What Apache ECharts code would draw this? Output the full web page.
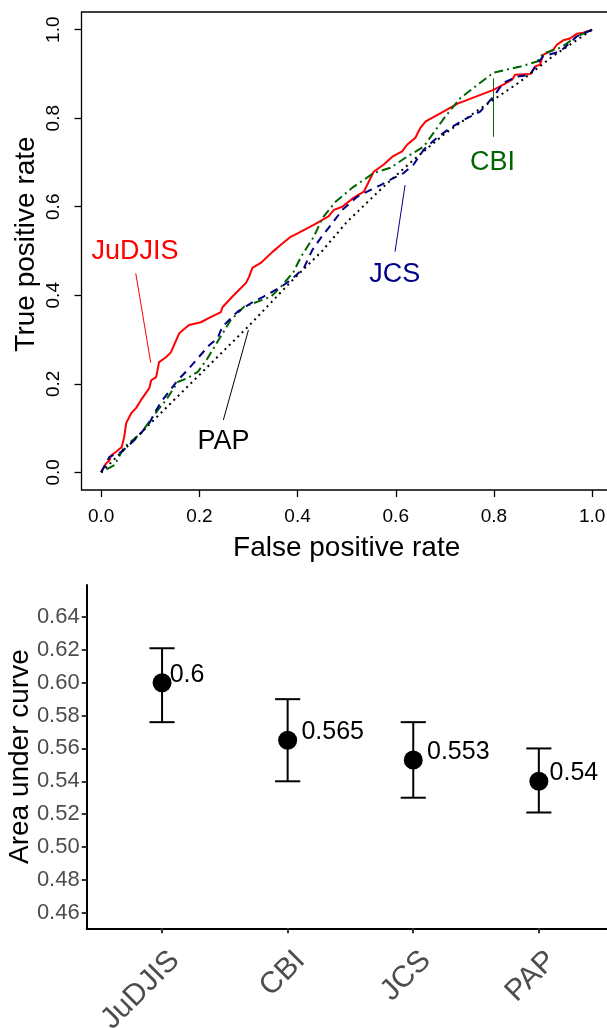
<!DOCTYPE html>
<html>
<head>
<meta charset="utf-8">
<script src="https://cdn.jsdelivr.net/npm/echarts@6/dist/echarts.min.js"></script>
<style>
html,body{margin:0;padding:0;background:#fff;}
#chart{width:607px;height:1028px;}
</style>
</head>
<body>
<div id="chart"></div>
<script>
// ---------- ROC curves (top panel) ----------
const judjisFpr = [0,0.010,0.017,0.020,0.030,0.042,0.047,0.051,0.061,0.071,0.081,0.091,0.098,0.102,0.112,0.118,0.132,0.142,0.159,0.179,0.203,0.224,0.244,0.247,0.270,0.295,0.301,0.308,0.325,0.349,0.366,0.386,0.402,0.433,0.463,0.474,0.491,0.514,0.535,0.555,0.575,0.593,0.613,0.623,0.640,0.650,0.661,0.697,0.728,0.738,0.799,0.819,0.837,0.843,0.874,0.884,0.894,0.900,0.921,0.928,0.941,0.955,0.969,0.982,1.0];
const judjisTpr = [0,0.020,0.027,0.038,0.046,0.057,0.080,0.111,0.133,0.145,0.163,0.179,0.190,0.208,0.215,0.249,0.260,0.271,0.314,0.333,0.339,0.351,0.362,0.373,0.400,0.428,0.441,0.462,0.473,0.498,0.514,0.532,0.541,0.559,0.578,0.593,0.600,0.620,0.634,0.679,0.695,0.713,0.725,0.740,0.756,0.778,0.793,0.815,0.834,0.838,0.864,0.876,0.887,0.898,0.900,0.917,0.921,0.943,0.955,0.966,0.976,0.980,0.991,0.993,1.0];

const cbiFpr = [0,0.027,0.047,0.081,0.105,0.115,0.132,0.156,0.176,0.197,0.217,0.237,0.264,0.291,0.346,0.366,0.392,0.407,0.433,0.451,0.478,0.514,0.555,0.589,0.623,0.657,0.701,0.732,0.772,0.799,0.854,0.888,0.900,0.935,0.969,1.0];
const cbiTpr = [0,0.016,0.057,0.088,0.125,0.140,0.163,0.204,0.213,0.227,0.258,0.295,0.344,0.374,0.397,0.419,0.453,0.487,0.532,0.575,0.612,0.645,0.676,0.688,0.713,0.736,0.804,0.846,0.880,0.903,0.917,0.928,0.946,0.959,0.985,1.0];

const jcsFpr = [0,0.017,0.041,0.075,0.098,0.112,0.122,0.136,0.156,0.176,0.197,0.220,0.237,0.247,0.278,0.305,0.331,0.366,0.386,0.413,0.430,0.447,0.471,0.491,0.522,0.549,0.569,0.596,0.616,0.636,0.657,0.684,0.711,0.738,0.772,0.799,0.819,0.847,0.874,0.884,0.900,0.935,0.969,1.0];
const jcsTpr = [0,0.035,0.046,0.080,0.111,0.140,0.159,0.179,0.208,0.231,0.258,0.287,0.303,0.329,0.363,0.382,0.397,0.419,0.434,0.462,0.502,0.529,0.563,0.593,0.623,0.638,0.649,0.665,0.676,0.695,0.729,0.756,0.778,0.796,0.815,0.849,0.880,0.894,0.898,0.917,0.940,0.951,0.985,1.0];

const papFpr = [0,0.05,0.10,0.15,0.20,0.25,0.30,0.386,0.45,0.50,0.57,0.63,0.70,0.77,0.85,0.92,1.0];
const papTpr = [0,0.055,0.11,0.165,0.22,0.275,0.33,0.43,0.50,0.565,0.64,0.70,0.765,0.82,0.88,0.94,1.0];

const rocTicks = [0,0.2,0.4,0.6,0.8,1.0];

// curve annotations (data coordinates): label text point, leader start, leader end
const annotNames = ['JuDJIS','CBI','JCS','PAP'];
const annotText = [[0.069,0.498],[0.797,0.700],[0.598,0.447],[0.249,0.069]];
const annotLeadA = [[0.0705,0.4496],[0.799,0.890],[0.619,0.649],[0.300,0.3215]];
const annotLeadB = [[0.101,0.2476],[0.799,0.758],[0.5985,0.4984],[0.2489,0.1182]];

// ---------- AUC (bottom panel) ----------
const methods = ['JuDJIS','CBI','JCS','PAP'];
const auc = [0.600, 0.565, 0.553, 0.540];
const aucLower = [0.576, 0.540, 0.530, 0.521];
const aucUpper = [0.621, 0.590, 0.576, 0.560];
const aucTicks = [0.46,0.48,0.50,0.52,0.54,0.56,0.58,0.60,0.62,0.64];

const FONT = 'Liberation Sans, Arial, Helvetica, sans-serif';
const colors = {JuDJIS:'#FF0000', CBI:'#006400', JCS:'#00008B', PAP:'#000000'};
const dashes = {JuDJIS:'solid', CBI:[2,4,9,4], JCS:[8,6], PAP:[2,4]};

const zip = (a,b) => a.map((v,i)=>[v,b[i]]);
const curves = [
  ['JuDJIS', judjisFpr, judjisTpr],
  ['CBI', cbiFpr, cbiTpr],
  ['JCS', jcsFpr, jcsTpr],
  ['PAP', papFpr, papTpr]
];

const series = [];
curves.forEach(([name, fx, fy]) => {
  series.push({
    type:'line', name, xAxisIndex:0, yAxisIndex:0,
    data: zip(fx, fy), showSymbol:false, symbol:'none', silent:true,
    lineStyle:{color:colors[name], width:2, type:dashes[name], opacity:1},
    z: 3
  });
});
annotNames.forEach((name,i) => {
  series.push({
    type:'line', xAxisIndex:0, yAxisIndex:0, data:[annotLeadA[i], annotLeadB[i]],
    showSymbol:false, symbol:'none', silent:true,
    lineStyle:{color:colors[name], width:1, opacity:1}, z:2
  });
});
series.push({
  type:'scatter', xAxisIndex:0, yAxisIndex:0, symbolSize:0, silent:true,
  itemStyle:{opacity:1},
  data: annotNames.map((n,i)=>({value:annotText[i], name:n,
     label:{color:colors[n]}})),
  label:{show:true, position:'inside', formatter:p=>p.name, fontSize:27, fontFamily:FONT},
  z:4
});

// bottom panel
const ctx = document.createElement('canvas').getContext('2d');
ctx.font = '25px ' + FONT;
series.push({
  type:'custom', xAxisIndex:1, yAxisIndex:1, silent:true,
  data: methods.map((m,i)=>[i+1, aucLower[i], aucUpper[i]]),
  renderItem:(params, api) => {
    const x = api.value(0), lo = api.value(1), hi = api.value(2);
    const t = api.coord([x,hi]), b = api.coord([x,lo]);
    const tl = api.coord([x-0.1,hi]), tr = api.coord([x+0.1,hi]);
    const bl = api.coord([x-0.1,lo]), br = api.coord([x+0.1,lo]);
    const st = {stroke:'#000', lineWidth:2};
    return {type:'group', children:[
      {type:'line', shape:{x1:t[0],y1:t[1],x2:b[0],y2:b[1]}, style:st},
      {type:'line', shape:{x1:tl[0],y1:tl[1],x2:tr[0],y2:tr[1]}, style:st},
      {type:'line', shape:{x1:bl[0],y1:bl[1],x2:br[0],y2:br[1]}, style:st}
    ]};
  },
  z:2
});
series.push({
  type:'scatter', xAxisIndex:1, yAxisIndex:1, symbol:'circle', symbolSize:19, silent:true,
  itemStyle:{color:'#000', opacity:1},
  data: methods.map((m,i)=>{
    const txt = String(auc[i]);
    const w = ctx.measureText(txt).width;
    return {value:[i+1, auc[i]], label:{distance: 0.22*w - 9.5}};
  }),
  label:{show:true, position:'right', formatter:p=>String(p.value[1]), fontSize:25,
         fontFamily:FONT, color:'#000', offset:[0,-7.7]},
  z:3
});

const option = {
  animation:false,
  backgroundColor:'#fff',
  textStyle:{fontFamily:FONT},
  grid:[
    {left:81.5, top:12, width:530.3, height:478, show:true, borderColor:'#000', borderWidth:1.3,
     backgroundColor:'transparent', outerBoundsMode:'none', containLabel:false},
    {left:86.7, top:585, width:527.5, height:343.3, outerBoundsMode:'none', containLabel:false}
  ],
  xAxis:[
    {type:'value', gridIndex:0, min:-0.04, max:1.04,
     axisLine:{show:false, onZero:false}, splitLine:{show:false},
     axisTick:{show:true, customValues:rocTicks, length:7, lineStyle:{color:'#000', width:1.3}},
     axisLabel:{customValues:rocTicks, formatter:v=>v.toFixed(1), fontSize:19, color:'#000', margin:17, fontFamily:FONT},
     name:'False positive rate', nameLocation:'middle', nameGap:44, nameMoveOverlap:false,
     nameTextStyle:{fontSize:28, color:'#000', fontFamily:FONT}},
    {type:'value', gridIndex:1, min:0.4, max:4.6,
     axisLine:{show:true, onZero:false, lineStyle:{color:'#000', width:2}}, splitLine:{show:false},
     axisTick:{show:true, customValues:[1,2,3,4], length:5, lineStyle:{color:'#333', width:2}},
     axisLabel:{customValues:[1,2,3,4], formatter:v=>methods[Math.round(v)-1], rotate:45,
                verticalAlign:'top', align:'right', padding:[8,5,0,0],
                fontSize:30, color:'#4D4D4D', margin:8, fontFamily:FONT}}
  ],
  yAxis:[
    {type:'value', gridIndex:0, min:-0.04, max:1.04,
     axisLine:{show:false, onZero:false}, splitLine:{show:false},
     axisTick:{show:true, customValues:rocTicks, length:7, lineStyle:{color:'#000', width:1.3}},
     axisLabel:{customValues:rocTicks, formatter:v=>v.toFixed(1), rotate:90, fontSize:19, color:'#000', margin:18, fontFamily:FONT},
     name:'True positive rate', nameLocation:'middle', nameGap:41, nameMoveOverlap:false,
     nameTextStyle:{fontSize:28, color:'#000', fontFamily:FONT, padding:[0,0,0,14]}},
    {type:'value', gridIndex:1, min:0.4505, max:0.6595,
     axisLine:{show:true, onZero:false, lineStyle:{color:'#000', width:2}}, splitLine:{show:false},
     axisTick:{show:true, customValues:aucTicks, length:5, lineStyle:{color:'#333', width:2}},
     axisLabel:{customValues:aucTicks, formatter:v=>v.toFixed(2), fontSize:22, color:'#4D4D4D', margin:7, fontFamily:FONT},
     name:'Area under curve', nameLocation:'middle', nameGap:52, nameMoveOverlap:false,
     nameTextStyle:{fontSize:28, color:'#000', fontFamily:FONT}}
  ],
  series
};

const chart = echarts.init(document.getElementById('chart'), null, {renderer:'canvas'});
chart.setOption(option);
</script>
</body>
</html>
